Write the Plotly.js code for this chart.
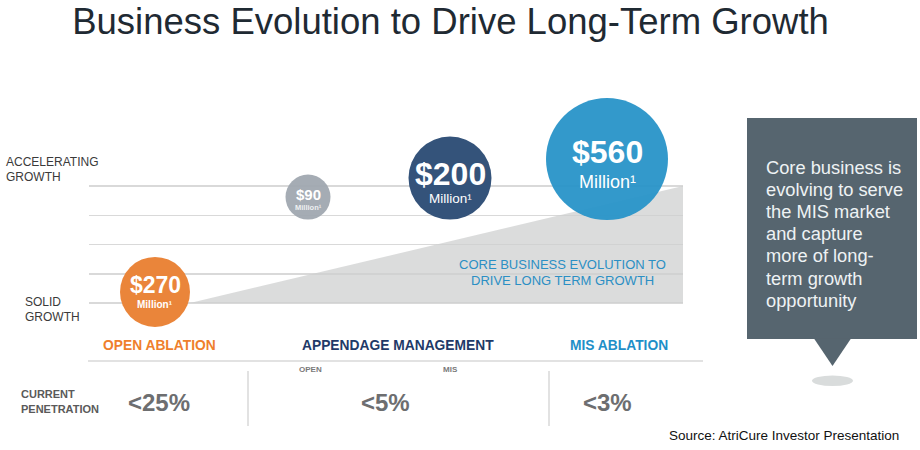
<!DOCTYPE html>
<html>
<head>
<meta charset="utf-8">
<script src="https://cdn.plot.ly/plotly-3.0.1.min.js"></script>
<style>html,body{margin:0;padding:0;background:#fff;}#chart{width:920px;height:450px;}</style>
</head>
<body>
<div id="chart"></div>
<script>
// ---------------- data ----------------
const chartTitle = 'Business Evolution to Drive Long-Term Growth';
const stages = ['OPEN ABLATION', 'APPENDAGE MANAGEMENT', 'MIS ABLATION'];
const penetration = ['<25%', '<5%', '<3%'];
const subStages = ['OPEN', 'MIS'];
const marketLabels = ['$270', '$90', '$200', '$560'];
const marketValues = [270, 90, 200, 560];          // US$ million
const marketUnit = 'Million\u00B9';
const growthLevels = [0, 1, 2, 3, 4];               // solid -> accelerating
const growthLabels = [['SOLID', 'GROWTH'], ['ACCELERATING', 'GROWTH']];
const coreLines = ['CORE BUSINESS EVOLUTION TO', 'DRIVE LONG TERM GROWTH'];
const calloutLines = ['Core business is', 'evolving to serve', 'the MIS market', 'and capture', 'more of long-', 'term growth', 'opportunity'];
const rowLabel = ['CURRENT', 'PENETRATION'];
const sourceText = 'Source: AtriCure Investor Presentation';

// ---------------- layout / style ----------------
const W = 920, H = 450;
const FONT = 'Liberation Sans, Arial, sans-serif';
const bubbleX = [155, 308, 450, 607];
const bubbleY = [0.38, 3.62, 4.27, 4.92];
const bubbleDiam = [70, 45, 83, 122];
const bubbleColors = ['#ea853a', 'rgba(160,168,176,0.95)', '#34537a', 'rgba(40,148,200,0.95)'];
const numSize = [23, 15, 32, 32], numBold = [true, true, true, true], numShift = [7, 3, 4, 7];
const unitSize = [10, 7.5, 13.5, 18], unitBold = [true, true, false, false], unitShift = [-13, -10, -20, -23];
const stageColors = ['#ef7f2c', '#1f3a68', '#1f8fc8'];
const stageX = [159, 398, 619];
const penX = [159, 385, 607];
const subX = [310, 450];
const pxPerLevel = 29.25, baseY = 303;

function px(x) { return x / W; }
function py(y) { return 1 - y / H; }
function note(x, y, text, size, color, opt) {
  opt = opt || {};
  return Object.assign({
    xref: 'paper', yref: 'paper', x: px(x), y: py(y), text: text, showarrow: false,
    xanchor: 'center', yanchor: 'middle', borderpad: 0, borderwidth: 0,
    font: {family: FONT, size: size, color: color}
  }, opt);
}

const traces = [
  { // gray wedge: core business evolution
    x: [190, 683, 683], y: [growthLevels[0], growthLevels[4], growthLevels[0]],
    mode: 'none', fill: 'toself', fillcolor: 'rgba(205,207,207,0.72)',
    hoverinfo: 'skip', showlegend: false, type: 'scatter'
  },
  { // market bubbles
    x: bubbleX, y: bubbleY, mode: 'markers', type: 'scatter', cliponaxis: false,
    text: marketValues.map(v => '$' + v + 'M'), hoverinfo: 'text', showlegend: false,
    marker: {size: bubbleDiam, color: bubbleColors, line: {width: 0}, opacity: 1}
  }
];

const annotations = [];
marketLabels.forEach((lab, i) => {
  annotations.push({xref: 'x', yref: 'y', x: bubbleX[i], y: bubbleY[i], yshift: numShift[i],
    text: numBold[i] ? '<b>' + lab + '</b>' : lab, showarrow: false, xanchor: 'center', yanchor: 'middle',
    font: {family: FONT, size: numSize[i], color: '#ffffff'}});
  annotations.push({xref: 'x', yref: 'y', x: bubbleX[i], y: bubbleY[i], yshift: unitShift[i],
    text: unitBold[i] ? '<b>' + marketUnit + '</b>' : marketUnit, showarrow: false, xanchor: 'center', yanchor: 'middle',
    font: {family: FONT, size: unitSize[i], color: i === 1 ? '#eef0f2' : '#ffffff'}});
});
// growth labels
growthLabels[1].forEach((t, k) => annotations.push(note(6, 162 + k * 15, t, 12, '#3a3a3a', {xanchor: 'left'})));
growthLabels[0].forEach((t, k) => annotations.push(note(25, 302 + k * 15, t, 12, '#3a3a3a', {xanchor: 'left'})));
// core text
coreLines.forEach((t, k) => annotations.push(note(562, 264 + k * 16, t, 13, '#2b8fc4')));
// callout text
calloutLines.forEach((t, k) => annotations.push(note(766, 167 + k * 22.2, t, 18.3, '#eef2f4', {xanchor: 'left'})));
// stage labels
stages.forEach((t, i) => annotations.push(note(stageX[i], 345, '<b>' + t + '</b>', 13.8, stageColors[i])));
subStages.forEach((t, i) => annotations.push(note(subX[i], 369, '<b>' + t + '</b>', 8, '#7a7a7a')));
penetration.forEach((t, i) => annotations.push(note(penX[i], 402, '<b>' + t.replace('<', '&lt;') + '</b>', 24, '#6d6e70')));
rowLabel.forEach((t, k) => annotations.push(note(21, 394 + k * 14.5, '<b>' + t + '</b>', 11, '#5a5a5a', {xanchor: 'left'})));
annotations.push(note(899, 435, sourceText, 13.5, '#111111', {xanchor: 'right'}));

const shapes = [
  // callout box
  {type: 'rect', xref: 'paper', yref: 'paper', x0: px(747), x1: px(917), y0: py(339), y1: py(118),
   fillcolor: '#56656f', line: {width: 0}, layer: 'below'},
  {type: 'path', xref: 'paper', yref: 'paper',
   path: 'M ' + px(814) + ' ' + py(338.5) + ' L ' + px(851) + ' ' + py(338.5) + ' L ' + px(832.5) + ' ' + py(366) + ' Z',
   fillcolor: '#56656f', line: {width: 0}, layer: 'below'},
  {type: 'circle', xref: 'paper', yref: 'paper', x0: px(812), x1: px(853), y0: py(386), y1: py(375.5),
   fillcolor: '#d9dcdc', line: {width: 0}, layer: 'below'},
  // separator lines
  {type: 'line', xref: 'paper', yref: 'paper', x0: px(88), x1: px(703), y0: py(361), y1: py(361),
   line: {color: '#d9d9d9', width: 1.5}},
  {type: 'line', xref: 'paper', yref: 'paper', x0: px(248), x1: px(248), y0: py(371), y1: py(426),
   line: {color: '#e2e2e2', width: 2}},
  {type: 'line', xref: 'paper', yref: 'paper', x0: px(549), x1: px(549), y0: py(371), y1: py(426),
   line: {color: '#e2e2e2', width: 2}}
];

const yMin = -(H - baseY) / pxPerLevel;
const yMax = yMin + H / pxPerLevel;

const layout = {
  width: W, height: H,
  margin: {l: 0, r: 0, t: 0, b: 0, pad: 0},
  paper_bgcolor: '#ffffff', plot_bgcolor: 'rgba(0,0,0,0)',
  title: {text: chartTitle, x: 450.5 / W, xanchor: 'center', y: 1 - 21 / H, yanchor: 'middle', yref: 'container',
          font: {family: FONT, size: 36.5, color: '#1f2a33'}},
  xaxis: {domain: [px(89), px(683)], range: [89, 683], showgrid: false, zeroline: false,
          showticklabels: false, showline: false, ticks: '', fixedrange: true},
  yaxis: {domain: [0, 1], range: [yMin, yMax], tickvals: growthLevels, showticklabels: false,
          gridcolor: '#d9d9d9', gridwidth: 1.5, zeroline: false, showline: false, ticks: '', fixedrange: true},
  showlegend: false,
  hovermode: 'closest',
  annotations: annotations,
  shapes: shapes
};

Plotly.newPlot('chart', traces, layout, {displayModeBar: false, staticPlot: true});
</script>
</body>
</html>
